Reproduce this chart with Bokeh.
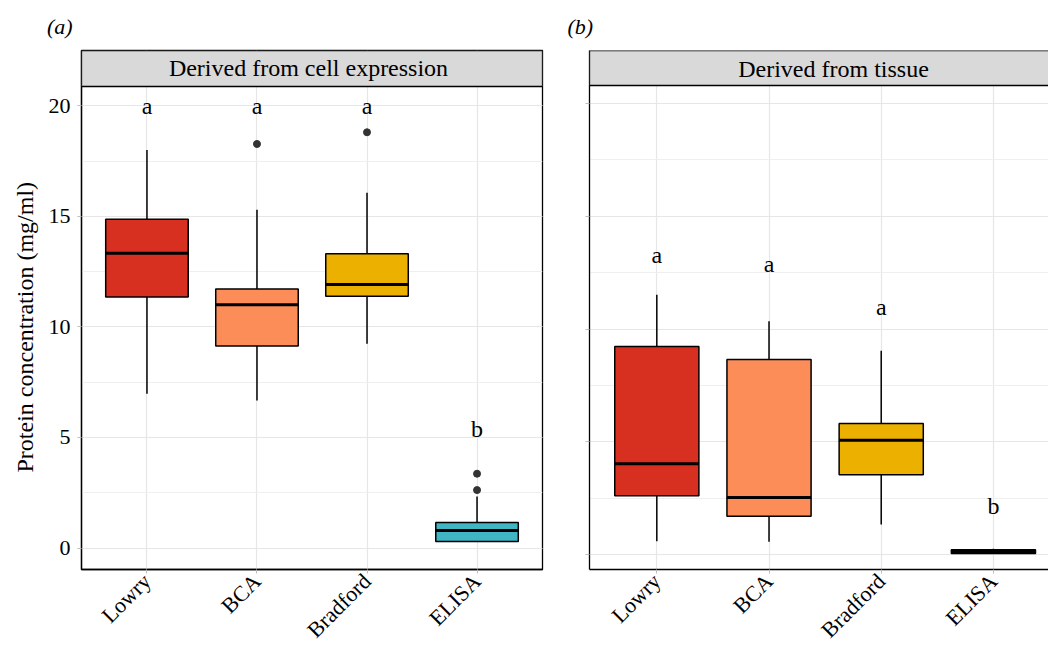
import math
from bokeh.plotting import figure
from bokeh.layouts import row
from bokeh.models import Range1d, FixedTicker, SingleIntervalTicker, BoxAnnotation, Label, Title
from bokeh.core.properties import value
from bokeh.embed import file_html
from bokeh.resources import INLINE

FONT = "Liberation Serif"
TEXT_SHIFT_PX = 8  # compensation for the alphabetic baseline in the svg backend

categories = ["Lowry", "BCA", "Bradford", "ELISA"]
colors = ["#D73020", "#FC8D59", "#EBB000", "#40B5C4"]

# Panel (a): derived from cell expression
cell_lo = [6.98, 6.67, 9.24, 0.29]
cell_q1 = [11.35, 9.13, 11.38, 0.29]
cell_med = [13.33, 11.00, 11.92, 0.79]
cell_q3 = [14.87, 11.71, 13.31, 1.15]
cell_hi = [18.00, 15.30, 16.07, 2.33]
cell_out_cat = ["BCA", "Bradford", "ELISA", "ELISA"]
cell_out_val = [18.27, 18.80, 3.36, 2.62]
cell_letters = ["a", "a", "a", "b"]
cell_letter_y = [19.64, 19.64, 19.64, 5.04]

# Panel (b): derived from tissue
tissue_lo = [0.60, 0.58, 1.34, 0.05]
tissue_q1 = [2.61, 1.71, 3.55, 0.06]
tissue_med = [4.03, 2.54, 5.07, 0.15]
tissue_q3 = [9.23, 8.65, 5.82, 0.22]
tissue_hi = [11.52, 10.34, 9.04, 0.27]
tissue_out_cat = []
tissue_out_val = []
tissue_letters = ["a", "a", "a", "b"]
tissue_letter_y = [12.94, 12.52, 10.64, 1.82]

y_tick_values = [0, 5, 10, 15, 20]
y_label = "Protein concentration (mg/ml)"
strip_a_text = "Derived from cell expression"
strip_b_text = "Derived from tissue"


def panel(W, H, mb_left, mb_right, mb_top, mb_bottom, x_rng, y_bottom, y_plot_top,
          strip_px, lo, q1, med, q3, hi, out_cat, out_val, letters, letter_y,
          strip_text, strip_x_px, strip_base_px, tag, tag_offset,
          show_ylabels, outline, xlab_standoff):
    frame_w = W - mb_left - mb_right
    frame_h = H - mb_top - mb_bottom
    plot_h = frame_h - strip_px
    ppu_y = plot_h / (y_plot_top - y_bottom)
    y_end = y_plot_top + strip_px / ppu_y
    ppu_x = frame_w / (x_rng[1] - x_rng[0])

    def dx(px_from_left):
        return x_rng[0] + px_from_left / ppu_x

    def dy(px_from_top):
        return y_end - px_from_top / ppu_y

    p = figure(width=W, height=H, x_range=Range1d(*x_rng), y_range=Range1d(y_bottom, y_end),
               output_backend="svg", toolbar_location=None, title=tag,
               min_border_left=mb_left, min_border_right=mb_right,
               min_border_top=mb_top, min_border_bottom=mb_bottom)
    p.background_fill_color = "white"
    p.border_fill_color = "white"
    if outline:
        p.outline_line_color = "black"
        p.outline_line_width = 1.3
    else:
        p.outline_line_color = None

    # panel tag
    p.title.align = "left"
    p.title.offset = tag_offset
    p.title.text_font = FONT
    p.title.text_font_size = "22px"
    p.title.text_font_style = "italic"
    p.title.text_color = "black"
    p.title.standoff = 23

    xs = [i + 1 for i in range(len(categories))]
    half = 0.375

    p.segment(x0=xs, y0=q3, x1=xs, y1=hi, line_color="black", line_width=1.5)
    p.segment(x0=xs, y0=lo, x1=xs, y1=q1, line_color="black", line_width=1.5)
    p.vbar(x=xs, width=2 * half, bottom=q1, top=q3, fill_color=colors,
           line_color="black", line_width=1.5)
    p.segment(x0=[x - half for x in xs], y0=med, x1=[x + half for x in xs], y1=med,
              line_color="black", line_width=3)
    if out_cat:
        ox = [categories.index(c) + 1 for c in out_cat]
        p.scatter(x=ox, y=out_val, size=7, fill_color="#333333", line_color="#333333")
    shift = TEXT_SHIFT_PX / ppu_y
    p.text(x=xs, y=[v + shift for v in letter_y], text=letters, text_font=value(FONT),
           text_font_size="24px", text_align="center", text_baseline="alphabetic",
           text_color="black")

    # strip (facet header)
    strip = BoxAnnotation(left=x_rng[0], right=x_rng[1] + (0 if outline else 1.0),
                          bottom=y_plot_top, top=y_end,
                          fill_color="#D9D9D9", fill_alpha=1.0,
                          line_color="black", line_width=1.3, line_alpha=1.0)
    p.add_layout(strip)
    p.add_layout(Label(x=dx(strip_x_px), y=dy(strip_base_px - TEXT_SHIFT_PX), text=strip_text,
                       text_font=FONT, text_font_size="24px", text_align="center",
                       text_baseline="alphabetic", text_color="black"))

    # x axis
    p.xaxis.ticker = FixedTicker(ticks=xs)
    p.xaxis.major_label_overrides = {x: c for x, c in zip(xs, categories)}
    p.xaxis.major_label_orientation = math.pi / 4
    p.xaxis.major_label_text_font = FONT
    p.xaxis.major_label_text_font_size = "22px"
    p.xaxis.major_label_text_color = "black"
    p.xaxis.major_label_standoff = xlab_standoff

    # y axis
    yt = SingleIntervalTicker(interval=5, num_minor_ticks=2)
    p.yaxis.ticker = yt
    p.ygrid.ticker = yt
    p.yaxis.major_label_text_font = FONT
    p.yaxis.major_label_text_font_size = "22px"
    p.yaxis.major_label_text_color = "black"
    p.yaxis.major_label_standoff = 7
    if show_ylabels:
        p.add_layout(Title(text=y_label, align="left", offset=97, text_font=FONT,
                           text_font_size="24px", text_font_style="normal",
                           text_color="black", standoff=15), "left")
    else:
        p.yaxis.major_label_overrides = {v: "" for v in y_tick_values}

    for ax in (p.xaxis, p.yaxis):
        ax.axis_line_color = "black"
        ax.axis_line_width = 1.3
        ax.major_tick_line_color = "#BDBDBD"
        ax.major_tick_line_width = 1
        ax.major_tick_out = 4
        ax.major_tick_in = 0
        ax.minor_tick_line_color = None

    p.xgrid.grid_line_color = "#E6E6E6"
    p.xgrid.grid_line_width = 1.2
    p.ygrid.grid_line_color = "#E6E6E6"
    p.ygrid.grid_line_width = 1.2
    p.ygrid.minor_grid_line_color = "#EFEFEF"
    p.ygrid.minor_grid_line_width = 1
    return p


# ---- panel (a) ---- page: frame x 81..542, strip 50..86, plot 86..569
pa = panel(560, 654, 81, 18, 50, 85, (0.405, 4.595), -0.972, 20.87, 36,
           cell_lo, cell_q1, cell_med, cell_q3, cell_hi,
           cell_out_cat, cell_out_val, cell_letters, cell_letter_y,
           strip_a_text, 308 - 81, 75.3 - 50, "(a)", 46.4 - 81,
           True, True, 4)

# ---- panel (b) ---- page: frame x 589..1048, strip 50..85, plot 85..569
# (frames of a row are aligned by Bokeh; gridlines kept at the reference positions)
pb = panel(488, 654, 29, 0, 50, 85, (0.4, 4.491), -0.651, 20.784, 35,
           tissue_lo, tissue_q1, tissue_med, tissue_q3, tissue_hi,
           tissue_out_cat, tissue_out_val, tissue_letters, tissue_letter_y,
           strip_b_text, 833 - 589, 26.3, "(b)", 567 - 589,
           False, False, 4)

layout = row(pa, pb, spacing=0)

open("out.html", "w").write(file_html(layout, INLINE))
